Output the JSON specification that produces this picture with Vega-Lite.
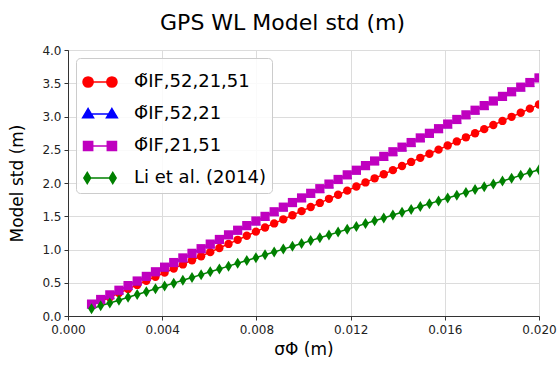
{
  "$schema": "https://vega.github.io/schema/vega-lite/v6.json",
  "width": 471,
  "height": 266,
  "autosize": "none",
  "padding": {"left": 68, "top": 50, "right": 19, "bottom": 51},
  "background": "white",
  "title": {"text": "GPS WL Model std (m)", "fontSize": 22, "font": "DejaVu Sans", "fontWeight": "normal", "color": "#000", "anchor": "middle", "frame": "bounds", "offset": 9},
  "config": {
    "view": {"stroke": "#333", "strokeWidth": 1},
    "axis": {"labelFont": "DejaVu Sans", "labelFontSize": 12, "labelColor": "#222", "titleFont": "DejaVu Sans", "titleFontSize": 17, "titleFontWeight": "normal", "titleColor": "#000", "tickColor": "#333", "tickSize": 4, "domainColor": "#333", "gridColor": "#dcdcdc", "gridWidth": 1, "labelFlush": false},
    "legend": {"orient": "top-left", "offset": 8, "labelFont": "DejaVu Sans", "labelFontSize": 18, "labelColor": "#000", "fillColor": "rgba(255,255,255,0.85)", "strokeColor": "#cccccc", "cornerRadius": 4, "padding": 6, "symbolSize": 1156, "symbolStrokeWidth": 1.5, "rowPadding": 5, "labelOffset": 16}
  },
  "data": {"values": [
    {"curve": "Φ̃IF,52,21,51", "sigma": 0.001, "std": 0.159},
    {"curve": "Φ̃IF,52,21,51", "sigma": 0.0013878, "std": 0.2207},
    {"curve": "Φ̃IF,52,21,51", "sigma": 0.0017755, "std": 0.2823},
    {"curve": "Φ̃IF,52,21,51", "sigma": 0.0021633, "std": 0.344},
    {"curve": "Φ̃IF,52,21,51", "sigma": 0.002551, "std": 0.4056},
    {"curve": "Φ̃IF,52,21,51", "sigma": 0.0029388, "std": 0.4673},
    {"curve": "Φ̃IF,52,21,51", "sigma": 0.0033265, "std": 0.5289},
    {"curve": "Φ̃IF,52,21,51", "sigma": 0.0037143, "std": 0.5906},
    {"curve": "Φ̃IF,52,21,51", "sigma": 0.004102, "std": 0.6522},
    {"curve": "Φ̃IF,52,21,51", "sigma": 0.0044898, "std": 0.7139},
    {"curve": "Φ̃IF,52,21,51", "sigma": 0.0048776, "std": 0.7755},
    {"curve": "Φ̃IF,52,21,51", "sigma": 0.0052653, "std": 0.8372},
    {"curve": "Φ̃IF,52,21,51", "sigma": 0.0056531, "std": 0.8988},
    {"curve": "Φ̃IF,52,21,51", "sigma": 0.0060408, "std": 0.9605},
    {"curve": "Φ̃IF,52,21,51", "sigma": 0.0064286, "std": 1.0221},
    {"curve": "Φ̃IF,52,21,51", "sigma": 0.0068163, "std": 1.0838},
    {"curve": "Φ̃IF,52,21,51", "sigma": 0.0072041, "std": 1.1454},
    {"curve": "Φ̃IF,52,21,51", "sigma": 0.0075918, "std": 1.2071},
    {"curve": "Φ̃IF,52,21,51", "sigma": 0.0079796, "std": 1.2688},
    {"curve": "Φ̃IF,52,21,51", "sigma": 0.0083673, "std": 1.3304},
    {"curve": "Φ̃IF,52,21,51", "sigma": 0.0087551, "std": 1.3921},
    {"curve": "Φ̃IF,52,21,51", "sigma": 0.0091429, "std": 1.4537},
    {"curve": "Φ̃IF,52,21,51", "sigma": 0.0095306, "std": 1.5154},
    {"curve": "Φ̃IF,52,21,51", "sigma": 0.0099184, "std": 1.577},
    {"curve": "Φ̃IF,52,21,51", "sigma": 0.0103061, "std": 1.6387},
    {"curve": "Φ̃IF,52,21,51", "sigma": 0.0106939, "std": 1.7003},
    {"curve": "Φ̃IF,52,21,51", "sigma": 0.0110816, "std": 1.762},
    {"curve": "Φ̃IF,52,21,51", "sigma": 0.0114694, "std": 1.8236},
    {"curve": "Φ̃IF,52,21,51", "sigma": 0.0118571, "std": 1.8853},
    {"curve": "Φ̃IF,52,21,51", "sigma": 0.0122449, "std": 1.9469},
    {"curve": "Φ̃IF,52,21,51", "sigma": 0.0126327, "std": 2.0086},
    {"curve": "Φ̃IF,52,21,51", "sigma": 0.0130204, "std": 2.0702},
    {"curve": "Φ̃IF,52,21,51", "sigma": 0.0134082, "std": 2.1319},
    {"curve": "Φ̃IF,52,21,51", "sigma": 0.0137959, "std": 2.1936},
    {"curve": "Φ̃IF,52,21,51", "sigma": 0.0141837, "std": 2.2552},
    {"curve": "Φ̃IF,52,21,51", "sigma": 0.0145714, "std": 2.3169},
    {"curve": "Φ̃IF,52,21,51", "sigma": 0.0149592, "std": 2.3785},
    {"curve": "Φ̃IF,52,21,51", "sigma": 0.0153469, "std": 2.4402},
    {"curve": "Φ̃IF,52,21,51", "sigma": 0.0157347, "std": 2.5018},
    {"curve": "Φ̃IF,52,21,51", "sigma": 0.0161224, "std": 2.5635},
    {"curve": "Φ̃IF,52,21,51", "sigma": 0.0165102, "std": 2.6251},
    {"curve": "Φ̃IF,52,21,51", "sigma": 0.016898, "std": 2.6868},
    {"curve": "Φ̃IF,52,21,51", "sigma": 0.0172857, "std": 2.7484},
    {"curve": "Φ̃IF,52,21,51", "sigma": 0.0176735, "std": 2.8101},
    {"curve": "Φ̃IF,52,21,51", "sigma": 0.0180612, "std": 2.8717},
    {"curve": "Φ̃IF,52,21,51", "sigma": 0.018449, "std": 2.9334},
    {"curve": "Φ̃IF,52,21,51", "sigma": 0.0188367, "std": 2.995},
    {"curve": "Φ̃IF,52,21,51", "sigma": 0.0192245, "std": 3.0567},
    {"curve": "Φ̃IF,52,21,51", "sigma": 0.0196122, "std": 3.1183},
    {"curve": "Φ̃IF,52,21,51", "sigma": 0.02, "std": 3.18},
    {"curve": "Φ̃IF,52,21", "sigma": 0.001, "std": 0.179},
    {"curve": "Φ̃IF,52,21", "sigma": 0.0013878, "std": 0.2484},
    {"curve": "Φ̃IF,52,21", "sigma": 0.0017755, "std": 0.3178},
    {"curve": "Φ̃IF,52,21", "sigma": 0.0021633, "std": 0.3872},
    {"curve": "Φ̃IF,52,21", "sigma": 0.002551, "std": 0.4566},
    {"curve": "Φ̃IF,52,21", "sigma": 0.0029388, "std": 0.526},
    {"curve": "Φ̃IF,52,21", "sigma": 0.0033265, "std": 0.5954},
    {"curve": "Φ̃IF,52,21", "sigma": 0.0037143, "std": 0.6649},
    {"curve": "Φ̃IF,52,21", "sigma": 0.004102, "std": 0.7343},
    {"curve": "Φ̃IF,52,21", "sigma": 0.0044898, "std": 0.8037},
    {"curve": "Φ̃IF,52,21", "sigma": 0.0048776, "std": 0.8731},
    {"curve": "Φ̃IF,52,21", "sigma": 0.0052653, "std": 0.9425},
    {"curve": "Φ̃IF,52,21", "sigma": 0.0056531, "std": 1.0119},
    {"curve": "Φ̃IF,52,21", "sigma": 0.0060408, "std": 1.0813},
    {"curve": "Φ̃IF,52,21", "sigma": 0.0064286, "std": 1.1507},
    {"curve": "Φ̃IF,52,21", "sigma": 0.0068163, "std": 1.2201},
    {"curve": "Φ̃IF,52,21", "sigma": 0.0072041, "std": 1.2895},
    {"curve": "Φ̃IF,52,21", "sigma": 0.0075918, "std": 1.3589},
    {"curve": "Φ̃IF,52,21", "sigma": 0.0079796, "std": 1.4283},
    {"curve": "Φ̃IF,52,21", "sigma": 0.0083673, "std": 1.4978},
    {"curve": "Φ̃IF,52,21", "sigma": 0.0087551, "std": 1.5672},
    {"curve": "Φ̃IF,52,21", "sigma": 0.0091429, "std": 1.6366},
    {"curve": "Φ̃IF,52,21", "sigma": 0.0095306, "std": 1.706},
    {"curve": "Φ̃IF,52,21", "sigma": 0.0099184, "std": 1.7754},
    {"curve": "Φ̃IF,52,21", "sigma": 0.0103061, "std": 1.8448},
    {"curve": "Φ̃IF,52,21", "sigma": 0.0106939, "std": 1.9142},
    {"curve": "Φ̃IF,52,21", "sigma": 0.0110816, "std": 1.9836},
    {"curve": "Φ̃IF,52,21", "sigma": 0.0114694, "std": 2.053},
    {"curve": "Φ̃IF,52,21", "sigma": 0.0118571, "std": 2.1224},
    {"curve": "Φ̃IF,52,21", "sigma": 0.0122449, "std": 2.1918},
    {"curve": "Φ̃IF,52,21", "sigma": 0.0126327, "std": 2.2612},
    {"curve": "Φ̃IF,52,21", "sigma": 0.0130204, "std": 2.3307},
    {"curve": "Φ̃IF,52,21", "sigma": 0.0134082, "std": 2.4001},
    {"curve": "Φ̃IF,52,21", "sigma": 0.0137959, "std": 2.4695},
    {"curve": "Φ̃IF,52,21", "sigma": 0.0141837, "std": 2.5389},
    {"curve": "Φ̃IF,52,21", "sigma": 0.0145714, "std": 2.6083},
    {"curve": "Φ̃IF,52,21", "sigma": 0.0149592, "std": 2.6777},
    {"curve": "Φ̃IF,52,21", "sigma": 0.0153469, "std": 2.7471},
    {"curve": "Φ̃IF,52,21", "sigma": 0.0157347, "std": 2.8165},
    {"curve": "Φ̃IF,52,21", "sigma": 0.0161224, "std": 2.8859},
    {"curve": "Φ̃IF,52,21", "sigma": 0.0165102, "std": 2.9553},
    {"curve": "Φ̃IF,52,21", "sigma": 0.016898, "std": 3.0247},
    {"curve": "Φ̃IF,52,21", "sigma": 0.0172857, "std": 3.0941},
    {"curve": "Φ̃IF,52,21", "sigma": 0.0176735, "std": 3.1636},
    {"curve": "Φ̃IF,52,21", "sigma": 0.0180612, "std": 3.233},
    {"curve": "Φ̃IF,52,21", "sigma": 0.018449, "std": 3.3024},
    {"curve": "Φ̃IF,52,21", "sigma": 0.0188367, "std": 3.3718},
    {"curve": "Φ̃IF,52,21", "sigma": 0.0192245, "std": 3.4412},
    {"curve": "Φ̃IF,52,21", "sigma": 0.0196122, "std": 3.5106},
    {"curve": "Φ̃IF,52,21", "sigma": 0.02, "std": 3.58},
    {"curve": "Φ̃IF,21,51", "sigma": 0.001, "std": 0.179},
    {"curve": "Φ̃IF,21,51", "sigma": 0.0013878, "std": 0.2484},
    {"curve": "Φ̃IF,21,51", "sigma": 0.0017755, "std": 0.3178},
    {"curve": "Φ̃IF,21,51", "sigma": 0.0021633, "std": 0.3872},
    {"curve": "Φ̃IF,21,51", "sigma": 0.002551, "std": 0.4566},
    {"curve": "Φ̃IF,21,51", "sigma": 0.0029388, "std": 0.526},
    {"curve": "Φ̃IF,21,51", "sigma": 0.0033265, "std": 0.5954},
    {"curve": "Φ̃IF,21,51", "sigma": 0.0037143, "std": 0.6649},
    {"curve": "Φ̃IF,21,51", "sigma": 0.004102, "std": 0.7343},
    {"curve": "Φ̃IF,21,51", "sigma": 0.0044898, "std": 0.8037},
    {"curve": "Φ̃IF,21,51", "sigma": 0.0048776, "std": 0.8731},
    {"curve": "Φ̃IF,21,51", "sigma": 0.0052653, "std": 0.9425},
    {"curve": "Φ̃IF,21,51", "sigma": 0.0056531, "std": 1.0119},
    {"curve": "Φ̃IF,21,51", "sigma": 0.0060408, "std": 1.0813},
    {"curve": "Φ̃IF,21,51", "sigma": 0.0064286, "std": 1.1507},
    {"curve": "Φ̃IF,21,51", "sigma": 0.0068163, "std": 1.2201},
    {"curve": "Φ̃IF,21,51", "sigma": 0.0072041, "std": 1.2895},
    {"curve": "Φ̃IF,21,51", "sigma": 0.0075918, "std": 1.3589},
    {"curve": "Φ̃IF,21,51", "sigma": 0.0079796, "std": 1.4283},
    {"curve": "Φ̃IF,21,51", "sigma": 0.0083673, "std": 1.4978},
    {"curve": "Φ̃IF,21,51", "sigma": 0.0087551, "std": 1.5672},
    {"curve": "Φ̃IF,21,51", "sigma": 0.0091429, "std": 1.6366},
    {"curve": "Φ̃IF,21,51", "sigma": 0.0095306, "std": 1.706},
    {"curve": "Φ̃IF,21,51", "sigma": 0.0099184, "std": 1.7754},
    {"curve": "Φ̃IF,21,51", "sigma": 0.0103061, "std": 1.8448},
    {"curve": "Φ̃IF,21,51", "sigma": 0.0106939, "std": 1.9142},
    {"curve": "Φ̃IF,21,51", "sigma": 0.0110816, "std": 1.9836},
    {"curve": "Φ̃IF,21,51", "sigma": 0.0114694, "std": 2.053},
    {"curve": "Φ̃IF,21,51", "sigma": 0.0118571, "std": 2.1224},
    {"curve": "Φ̃IF,21,51", "sigma": 0.0122449, "std": 2.1918},
    {"curve": "Φ̃IF,21,51", "sigma": 0.0126327, "std": 2.2612},
    {"curve": "Φ̃IF,21,51", "sigma": 0.0130204, "std": 2.3307},
    {"curve": "Φ̃IF,21,51", "sigma": 0.0134082, "std": 2.4001},
    {"curve": "Φ̃IF,21,51", "sigma": 0.0137959, "std": 2.4695},
    {"curve": "Φ̃IF,21,51", "sigma": 0.0141837, "std": 2.5389},
    {"curve": "Φ̃IF,21,51", "sigma": 0.0145714, "std": 2.6083},
    {"curve": "Φ̃IF,21,51", "sigma": 0.0149592, "std": 2.6777},
    {"curve": "Φ̃IF,21,51", "sigma": 0.0153469, "std": 2.7471},
    {"curve": "Φ̃IF,21,51", "sigma": 0.0157347, "std": 2.8165},
    {"curve": "Φ̃IF,21,51", "sigma": 0.0161224, "std": 2.8859},
    {"curve": "Φ̃IF,21,51", "sigma": 0.0165102, "std": 2.9553},
    {"curve": "Φ̃IF,21,51", "sigma": 0.016898, "std": 3.0247},
    {"curve": "Φ̃IF,21,51", "sigma": 0.0172857, "std": 3.0941},
    {"curve": "Φ̃IF,21,51", "sigma": 0.0176735, "std": 3.1636},
    {"curve": "Φ̃IF,21,51", "sigma": 0.0180612, "std": 3.233},
    {"curve": "Φ̃IF,21,51", "sigma": 0.018449, "std": 3.3024},
    {"curve": "Φ̃IF,21,51", "sigma": 0.0188367, "std": 3.3718},
    {"curve": "Φ̃IF,21,51", "sigma": 0.0192245, "std": 3.4412},
    {"curve": "Φ̃IF,21,51", "sigma": 0.0196122, "std": 3.5106},
    {"curve": "Φ̃IF,21,51", "sigma": 0.02, "std": 3.58},
    {"curve": "Li et al. (2014)", "sigma": 0.001, "std": 0.11},
    {"curve": "Li et al. (2014)", "sigma": 0.0013878, "std": 0.1527},
    {"curve": "Li et al. (2014)", "sigma": 0.0017755, "std": 0.1953},
    {"curve": "Li et al. (2014)", "sigma": 0.0021633, "std": 0.238},
    {"curve": "Li et al. (2014)", "sigma": 0.002551, "std": 0.2806},
    {"curve": "Li et al. (2014)", "sigma": 0.0029388, "std": 0.3233},
    {"curve": "Li et al. (2014)", "sigma": 0.0033265, "std": 0.3659},
    {"curve": "Li et al. (2014)", "sigma": 0.0037143, "std": 0.4086},
    {"curve": "Li et al. (2014)", "sigma": 0.004102, "std": 0.4512},
    {"curve": "Li et al. (2014)", "sigma": 0.0044898, "std": 0.4939},
    {"curve": "Li et al. (2014)", "sigma": 0.0048776, "std": 0.5365},
    {"curve": "Li et al. (2014)", "sigma": 0.0052653, "std": 0.5792},
    {"curve": "Li et al. (2014)", "sigma": 0.0056531, "std": 0.6218},
    {"curve": "Li et al. (2014)", "sigma": 0.0060408, "std": 0.6645},
    {"curve": "Li et al. (2014)", "sigma": 0.0064286, "std": 0.7071},
    {"curve": "Li et al. (2014)", "sigma": 0.0068163, "std": 0.7498},
    {"curve": "Li et al. (2014)", "sigma": 0.0072041, "std": 0.7924},
    {"curve": "Li et al. (2014)", "sigma": 0.0075918, "std": 0.8351},
    {"curve": "Li et al. (2014)", "sigma": 0.0079796, "std": 0.8778},
    {"curve": "Li et al. (2014)", "sigma": 0.0083673, "std": 0.9204},
    {"curve": "Li et al. (2014)", "sigma": 0.0087551, "std": 0.9631},
    {"curve": "Li et al. (2014)", "sigma": 0.0091429, "std": 1.0057},
    {"curve": "Li et al. (2014)", "sigma": 0.0095306, "std": 1.0484},
    {"curve": "Li et al. (2014)", "sigma": 0.0099184, "std": 1.091},
    {"curve": "Li et al. (2014)", "sigma": 0.0103061, "std": 1.1337},
    {"curve": "Li et al. (2014)", "sigma": 0.0106939, "std": 1.1763},
    {"curve": "Li et al. (2014)", "sigma": 0.0110816, "std": 1.219},
    {"curve": "Li et al. (2014)", "sigma": 0.0114694, "std": 1.2616},
    {"curve": "Li et al. (2014)", "sigma": 0.0118571, "std": 1.3043},
    {"curve": "Li et al. (2014)", "sigma": 0.0122449, "std": 1.3469},
    {"curve": "Li et al. (2014)", "sigma": 0.0126327, "std": 1.3896},
    {"curve": "Li et al. (2014)", "sigma": 0.0130204, "std": 1.4322},
    {"curve": "Li et al. (2014)", "sigma": 0.0134082, "std": 1.4749},
    {"curve": "Li et al. (2014)", "sigma": 0.0137959, "std": 1.5176},
    {"curve": "Li et al. (2014)", "sigma": 0.0141837, "std": 1.5602},
    {"curve": "Li et al. (2014)", "sigma": 0.0145714, "std": 1.6029},
    {"curve": "Li et al. (2014)", "sigma": 0.0149592, "std": 1.6455},
    {"curve": "Li et al. (2014)", "sigma": 0.0153469, "std": 1.6882},
    {"curve": "Li et al. (2014)", "sigma": 0.0157347, "std": 1.7308},
    {"curve": "Li et al. (2014)", "sigma": 0.0161224, "std": 1.7735},
    {"curve": "Li et al. (2014)", "sigma": 0.0165102, "std": 1.8161},
    {"curve": "Li et al. (2014)", "sigma": 0.016898, "std": 1.8588},
    {"curve": "Li et al. (2014)", "sigma": 0.0172857, "std": 1.9014},
    {"curve": "Li et al. (2014)", "sigma": 0.0176735, "std": 1.9441},
    {"curve": "Li et al. (2014)", "sigma": 0.0180612, "std": 1.9867},
    {"curve": "Li et al. (2014)", "sigma": 0.018449, "std": 2.0294},
    {"curve": "Li et al. (2014)", "sigma": 0.0188367, "std": 2.072},
    {"curve": "Li et al. (2014)", "sigma": 0.0192245, "std": 2.1147},
    {"curve": "Li et al. (2014)", "sigma": 0.0196122, "std": 2.1573},
    {"curve": "Li et al. (2014)", "sigma": 0.02, "std": 2.2}
  ]},
  "encoding": {
    "x": {"field": "sigma", "type": "quantitative", "title": "σΦ (m)",
      "scale": {"domain": [0, 0.02], "nice": false, "zero": false},
      "axis": {"values": [0, 0.004, 0.008, 0.012, 0.016, 0.02], "format": ".3f", "labelPadding": 4, "titlePadding": 6, "grid": true}},
    "y": {"field": "std", "type": "quantitative", "title": "Model std (m)",
      "scale": {"domain": [0, 4], "nice": false},
      "axis": {"values": [0, 0.5, 1, 1.5, 2, 2.5, 3, 3.5, 4], "format": ".1f", "labelPadding": 3, "titlePadding": 15, "grid": true}}
  },
  "layer": [
    {
      "mark": {"type": "line", "strokeWidth": 1.5, "clip": true},
      "encoding": {
        "detail": {"field": "curve", "type": "nominal"},
        "stroke": {"condition": [
          {"test": "datum.curve === 'Φ̃IF,52,21,51'", "value": "#ff0000"},
          {"test": "datum.curve === 'Φ̃IF,52,21'", "value": "#0000ff"},
          {"test": "datum.curve === 'Φ̃IF,21,51'", "value": "#bf00bf"}
        ], "value": "#008000"}
      }
    },
    {
      "mark": {"type": "point", "filled": true, "opacity": 1, "clip": true, "strokeWidth": 0},
      "encoding": {
        "fill": {"condition": [
          {"test": "datum.curve === 'Φ̃IF,52,21,51'", "value": "#ff0000"},
          {"test": "datum.curve === 'Φ̃IF,52,21'", "value": "#0000ff"},
          {"test": "datum.curve === 'Φ̃IF,21,51'", "value": "#bf00bf"}
        ], "value": "#008000"},
        "shape": {"condition": [
          {"test": "datum.curve === 'Φ̃IF,52,21,51'", "value": "circle"},
          {"test": "datum.curve === 'Φ̃IF,52,21'", "value": "triangle-up"},
          {"test": "datum.curve === 'Φ̃IF,21,51'", "value": "square"}
        ], "value": "M0,-1L0.62,0L0,1L-0.62,0Z"},
        "size": {"condition": [
          {"test": "datum.curve === 'Φ̃IF,52,21,51'", "value": 70},
          {"test": "datum.curve === 'Φ̃IF,52,21'", "value": 90},
          {"test": "datum.curve === 'Φ̃IF,21,51'", "value": 85}
        ], "value": 121}
      }
    },
    {
      "transform": [{"filter": "false"}],
      "mark": {"type": "point", "filled": true, "opacity": 1},
      "encoding": {
        "fill": {"field": "curve", "type": "nominal", "title": null,
          "scale": {"domain": ["Φ̃IF,52,21,51", "Φ̃IF,52,21", "Φ̃IF,21,51", "Li et al. (2014)"], "range": ["#ff0000", "#0000ff", "#bf00bf", "#008000"]}},
        "stroke": {"field": "curve", "type": "nominal", "title": null,
          "scale": {"domain": ["Φ̃IF,52,21,51", "Φ̃IF,52,21", "Φ̃IF,21,51", "Li et al. (2014)"], "range": ["#ff0000", "#0000ff", "#bf00bf", "#008000"]}},
        "shape": {"field": "curve", "type": "nominal", "title": null,
          "scale": {"domain": ["Φ̃IF,52,21,51", "Φ̃IF,52,21", "Φ̃IF,21,51", "Li et al. (2014)"], "range": [
            "M-0.7,0H0.7M-1,0A0.3,0.3 0 1,0 -0.4,0A0.3,0.3 0 1,0 -1,0ZM0.4,0A0.3,0.3 0 1,0 1,0A0.3,0.3 0 1,0 0.4,0Z",
            "M-0.7,0H0.7M-0.7,-0.32L-0.38,0.22L-1.02,0.22ZM0.7,-0.32L1.02,0.22L0.38,0.22Z",
            "M-0.7,0H0.7M-0.97,-0.27H-0.43V0.27H-0.97ZM0.43,-0.27H0.97V0.27H0.43Z",
            "M-0.7,0H0.7M-0.75,-0.33L-0.55,0L-0.75,0.33L-0.95,0ZM0.75,-0.33L0.95,0L0.75,0.33L0.55,0Z"
          ]}}
      }
    }
  ]
}
